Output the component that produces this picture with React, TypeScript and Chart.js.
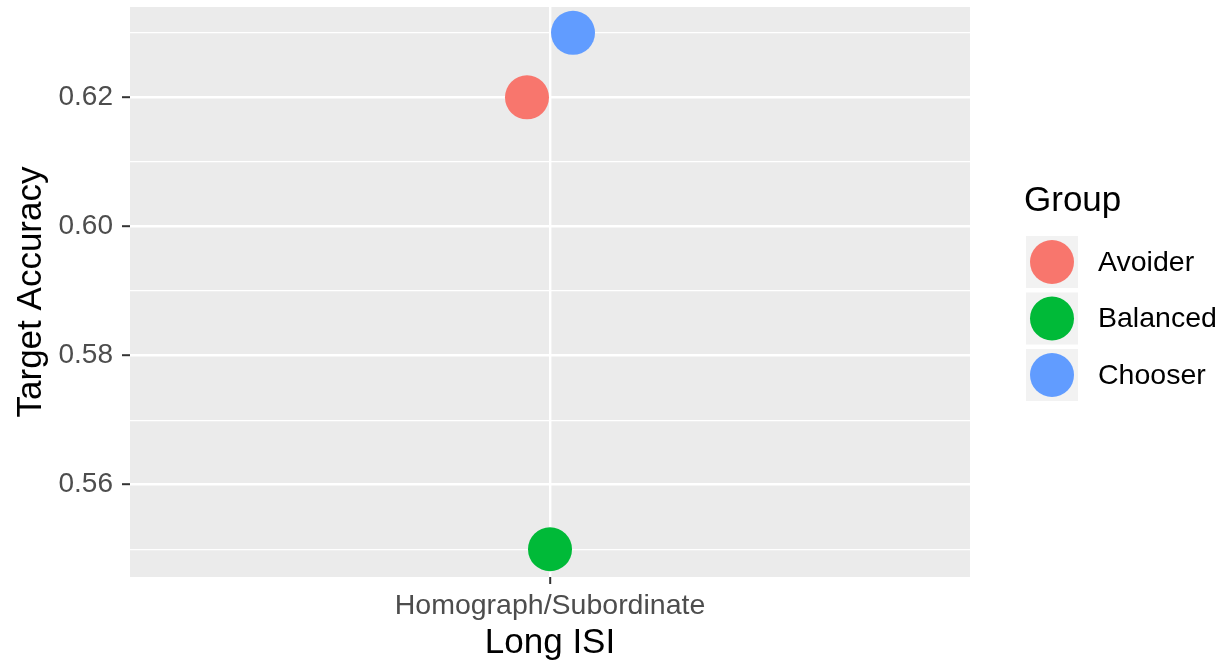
import { useEffect, useRef } from "react";
import { Chart, registerables } from "chart.js";

Chart.register(...registerables);

const CATEGORIES = ["Homograph/Subordinate"];
const GROUPS = ["Avoider", "Balanced", "Chooser"];
const ACCURACY = [0.62, 0.55, 0.63];
const COLORS = ["#F8766D", "#00BA38", "#619CFF"];
const Y_TICKS = [0.55, 0.56, 0.57, 0.58, 0.59, 0.6, 0.61, 0.62, 0.63];
const Y_MAJOR = [0.56, 0.58, 0.6, 0.62];
const Y_MIN = 0.5457;
const Y_MAX = 0.634;
const DODGE = 0.0274;

const FONT = "'Liberation Sans', Arial, Helvetica, sans-serif";

const isMajor = (v: number | undefined) =>
  v !== undefined && Y_MAJOR.some((m) => Math.abs(m - v) < 1e-6);

const panelBg = {
  id: "panelBg",
  beforeDraw(chart: any) {
    const { ctx, chartArea } = chart;
    ctx.save();
    ctx.fillStyle = "#EBEBEB";
    ctx.fillRect(chartArea.left, chartArea.top, chartArea.right - chartArea.left, chartArea.bottom - chartArea.top);
    ctx.restore();
  },
};

const ggLegend = {
  id: "ggLegend",
  afterDraw(chart: any) {
    const { ctx } = chart;
    ctx.save();
    ctx.fillStyle = "#000";
    ctx.font = `35px ${FONT}`;
    ctx.textBaseline = "middle";
    ctx.textAlign = "left";
    ctx.fillText("Group", 1024, 201);
    const boxX = 1026;
    const boxW = 52;
    const step = 56.5;
    const top0 = 236;
    chart.data.datasets.forEach((ds: any, i: number) => {
      const y = top0 + i * step;
      ctx.fillStyle = "#F2F2F2";
      ctx.fillRect(boxX, y, boxW, boxW);
      ctx.beginPath();
      ctx.fillStyle = ds.backgroundColor;
      ctx.arc(boxX + boxW / 2, y + boxW / 2, 22, 0, Math.PI * 2);
      ctx.fill();
      ctx.fillStyle = "#000";
      ctx.font = `28.5px ${FONT}`;
      ctx.fillText(ds.label, 1098, y + boxW / 2 + 1);
    });
    ctx.restore();
  },
};

export default function App() {
  const ref = useRef<HTMLCanvasElement>(null);

  useEffect(() => {
    if (!ref.current) return;
    const datasets = GROUPS.map((g, i) => ({
      label: g,
      data: [{ x: 0 + (i - (GROUPS.length - 1) / 2) * DODGE, y: ACCURACY[i] }],
      backgroundColor: COLORS[i],
      borderWidth: 0,
      pointRadius: 22,
      pointHoverRadius: 22,
    }));
    const chart = new Chart(ref.current, {
      type: "scatter",
      data: { datasets },
      plugins: [panelBg, ggLegend],
      options: {
        animation: false,
        responsive: false,
        events: [],
        layout: { autoPadding: false, padding: { left: 0, top: 7, right: 255, bottom: 0 } },
        plugins: { legend: { display: false }, tooltip: { enabled: false } },
        scales: {
          x: {
            type: "linear",
            min: -0.5,
            max: 0.5,
            afterBuildTicks: (s: any) => {
              s.ticks = CATEGORIES.map((_, i) => ({ value: i }));
            },
            afterFit: (s: any) => {
              s.height = 87;
              s.paddingLeft = 0;
              s.paddingRight = 0;
            },
            ticks: {
              autoSkip: false,
              maxRotation: 0,
              color: "#4D4D4D",
              font: { size: 28.5, family: FONT },
              padding: 5,
              callback: (v: any) => CATEGORIES[Math.round(Number(v))] ?? "",
            },
            grid: {
              color: "#FFFFFF",
              lineWidth: 2.4,
              tickLength: 7,
              tickColor: "#333333",
              tickWidth: 2,
            },
            border: { display: false },
            title: {
              display: true,
              text: "Long ISI",
              color: "#000",
              font: { size: 35, family: FONT },
              padding: { top: 0, bottom: 0 },
            },
          },
          y: {
            type: "linear",
            min: Y_MIN,
            max: Y_MAX,
            afterBuildTicks: (s: any) => {
              s.ticks = Y_TICKS.map((v) => ({ value: v }));
            },
            afterFit: (s: any) => {
              s.width = 130;
              s.paddingTop = 0;
              s.paddingBottom = 0;
            },
            ticks: {
              autoSkip: false,
              color: "#4D4D4D",
              font: { size: 28, family: FONT },
              padding: 9,
              callback: (v: any) => (isMajor(Number(v)) ? Number(v).toFixed(2) : ""),
            },
            grid: {
              color: "#FFFFFF",
              lineWidth: (c: any) => (isMajor(c.tick?.value) ? 2.4 : 1.2),
              tickLength: 8,
              tickColor: (c: any) => (isMajor(c.tick?.value) ? "#333333" : "rgba(0,0,0,0)"),
              tickWidth: 2,
            },
            border: { display: false },
            title: {
              display: true,
              text: "Target Accuracy",
              color: "#000",
              font: { size: 35, family: FONT },
              padding: { top: 10, bottom: 0 },
            },
          },
        },
      },
    });
    return () => chart.destroy();
  }, []);

  return (
    <div style={{ position: "absolute", left: 0, top: 0, width: 1225, height: 664, background: "#fff" }}>
      <canvas ref={ref} width={1225} height={664} />
    </div>
  );
}
